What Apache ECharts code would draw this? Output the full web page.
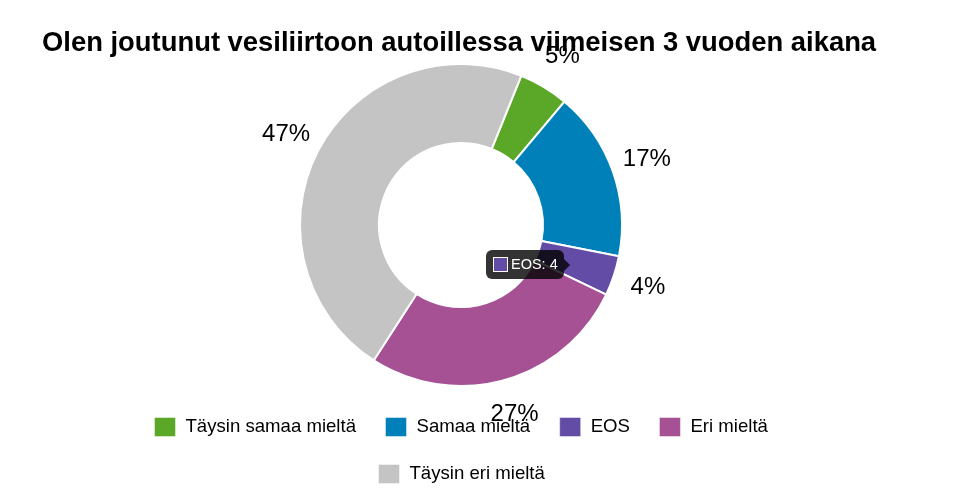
<!DOCTYPE html>
<html>
<head>
<meta charset="utf-8">
<script src="https://cdn.jsdelivr.net/npm/echarts@6/dist/echarts.min.js"></script>
<style>
html,body{margin:0;padding:0;background:#fff;}
#c{width:960px;height:500px;}
</style>
</head>
<body>
<div id="c"></div>
<script>
const titleText = 'Olen joutunut vesiliirtoon autoillessa viimeisen 3 vuoden aikana';
const categories = ['Täysin samaa mieltä', 'Samaa mieltä', 'EOS', 'Eri mieltä', 'Täysin eri mieltä'];
const values = [5, 17, 4, 27, 47];
const colors = ['#5ba829', '#0080b8', '#634ca6', '#a55194', '#c4c4c4'];
const legendRow1 = categories.slice(0, 4);
const legendRow2 = categories.slice(4);

const FONT = "'Liberation Sans', Arial, Helvetica, sans-serif";
const data = categories.map((n, i) => ({ name: n, value: values[i], itemStyle: { color: colors[i] } }));

const chart = echarts.init(document.getElementById('c'), null, { renderer: 'canvas' });

const legendCommon = {
  orient: 'horizontal',
  padding: 0,
  itemWidth: 21,
  itemHeight: 19,
  itemGap: 29,
  icon: 'rect',
  selectedMode: false,
  itemStyle: { borderWidth: 1, borderColor: 'rgba(255,255,255,0.45)' },
  textStyle: { fontFamily: FONT, fontSize: 18.6, color: '#000', padding: [0, 0, 0, 5] }
};

chart.setOption({
  animation: false,
  title: {
    text: titleText,
    left: 42,
    top: 30,
    padding: 0,
    textStyle: { fontFamily: FONT, fontWeight: 'bold', fontSize: 27.4, color: '#000' }
  },
  tooltip: {
    trigger: 'item',
    triggerOn: 'none',
    alwaysShowContent: true,
    transitionDuration: 0,
    position: [486, 250],
    backgroundColor: 'rgba(0,0,0,0.8)',
    borderWidth: 0,
    padding: [6, 6, 6, 7],
    extraCssText: 'border-radius:6px;box-shadow:none;',
    textStyle: { color: '#fff', fontFamily: FONT, fontSize: 14.5 },
    formatter: function (p) {
      return '<div style="display:flex;align-items:center;position:relative;line-height:17px">' +
        '<span style="display:inline-block;width:13px;height:13px;border:1.5px solid #fff;background:' + p.color + ';margin-right:3px"></span>' +
        p.name + ': ' + p.value +
        '<span style="position:absolute;right:-12px;top:50%;margin-top:-6px;width:0;height:0;border-top:6px solid transparent;border-bottom:6px solid transparent;border-left:6px solid rgba(0,0,0,0.8)"></span>' +
        '</div>';
    }
  },
  legend: [
    Object.assign({}, legendCommon, { data: legendRow1, left: 154, top: 417 }),
    Object.assign({}, legendCommon, { data: legendRow2, left: 378, top: 464 })
  ],
  series: [
    {
      type: 'pie',
      center: [461, 225],
      radius: [82, 161],
      startAngle: 68,
      clockwise: true,
      avoidLabelOverlap: false,
      label: { show: false },
      labelLine: { show: false },
      emphasis: { disabled: true },
      itemStyle: { borderColor: '#fff', borderWidth: 2 },
      data: data
    },
    {
      type: 'pie',
      center: [461, 225],
      radius: [187, 201],
      startAngle: 68,
      clockwise: true,
      silent: true,
      avoidLabelOverlap: false,
      tooltip: { show: false },
      emphasis: { disabled: true },
      itemStyle: { color: 'rgba(0,0,0,0)', borderWidth: 0 },
      label: {
        show: true,
        position: 'inside',
        fontFamily: FONT,
        fontSize: 24,
        color: '#000',
        formatter: function (p) { return p.value + '%'; }
      },
      labelLine: { show: false },
      data: categories.map((n, i) => ({ name: n, value: values[i] }))
    }
  ]
});

chart.dispatchAction({ type: 'showTip', seriesIndex: 0, dataIndex: 2 });
</script>
</body>
</html>
